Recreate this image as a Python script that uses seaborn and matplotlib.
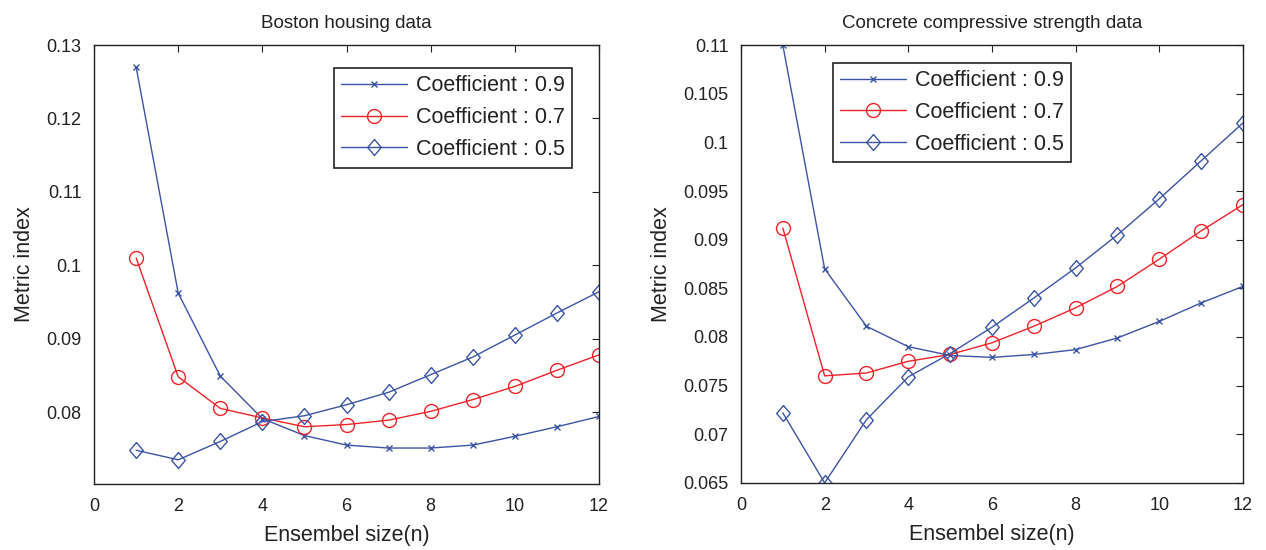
import numpy as np
import pandas as pd
import seaborn as sns
import matplotlib
matplotlib.use("Agg")
import matplotlib.pyplot as plt

# Ensemble sizes
ensemble_size = list(range(1, 13))

# Boston housing data
boston_09 = [0.1270, 0.0962, 0.0849, 0.0791, 0.0768, 0.0755, 0.0751, 0.0751, 0.0755, 0.0767, 0.0780, 0.0794]
boston_07 = [0.1010, 0.0848, 0.0805, 0.0792, 0.0780, 0.0783, 0.0789, 0.0801, 0.0817, 0.0835, 0.0857, 0.0878]
boston_05 = [0.0748, 0.0735, 0.0760, 0.0787, 0.0795, 0.0810, 0.0827, 0.0851, 0.0875, 0.0905, 0.0935, 0.0964]

# Concrete compressive strength data
concrete_09 = [0.1100, 0.0870, 0.0811, 0.0790, 0.0781, 0.0779, 0.0782, 0.0787, 0.0799, 0.0816, 0.0835, 0.0852]
concrete_07 = [0.0912, 0.0760, 0.0763, 0.0775, 0.0782, 0.0794, 0.0811, 0.0830, 0.0852, 0.0880, 0.0909, 0.0936]
concrete_05 = [0.0722, 0.0650, 0.0715, 0.0759, 0.0783, 0.0810, 0.0840, 0.0871, 0.0905, 0.0942, 0.0981, 0.1020]

labels = ["Coefficient : 0.9", "Coefficient : 0.7", "Coefficient : 0.5"]

sns.set_theme(style="white")
plt.rcParams['font.family'] = ['Liberation Sans', 'DejaVu Sans']

BLUE = "#3b54a5"
RED = "#ee2327"
# MATLAB-like diamond, a bit taller than wide
diamond = [(0, 1), (0.85, 0), (0, -1), (-0.85, 0), (0, 1)]
styles = [
    dict(color=BLUE, marker="x", markersize=5, mew=1.0),
    dict(color=RED, marker="o", markersize=10, mew=1.0),
    dict(color=BLUE, marker=diamond, markersize=11.5, mew=1.0),
]

fig = plt.figure(figsize=(12.66, 5.5), dpi=100)
ax1 = fig.add_axes([0.0743, 0.12, 0.3989, 0.798])
ax2 = fig.add_axes([0.5853, 0.122, 0.3965, 0.796])


def draw(ax, series, title, ylim, yticks, ytlabels, legend_loc):
    for vals, lab, st in zip(series, labels, styles):
        df = pd.DataFrame({"n": ensemble_size, "v": vals})
        sns.lineplot(data=df, x="n", y="v", ax=ax, color=st["color"],
                     marker=st["marker"], markersize=st["markersize"],
                     mfc="none", mec=st["color"], mew=st["mew"],
                     linewidth=1.0, label=lab)
    ax.set_xlim(0, 12)
    ax.set_ylim(*ylim)
    ax.set_xticks(range(0, 13, 2))
    ax.set_xticklabels([str(t) for t in range(0, 13, 2)], fontsize=13)
    ax.set_yticks(yticks)
    ax.set_yticklabels(ytlabels, fontsize=13)
    ax.tick_params(direction="in", top=True, right=True, length=5, width=0.8,
                   colors="#222222")
    ax.tick_params(axis="x", pad=10)
    ax.tick_params(axis="y", pad=9)
    for sp in ax.spines.values():
        sp.set_color("#222222")
        sp.set_linewidth(1.0)
    ax.set_title(title, fontsize=13.5, pad=12, color="#222222")
    ax.set_xlabel("Ensembel size(n)", fontsize=15.5, labelpad=7, color="#222222")
    ax.set_ylabel("Metric index", fontsize=15.5, labelpad=8, color="#222222")
    leg = ax.legend(loc="upper left", bbox_to_anchor=legend_loc, fontsize=15.5,
                    frameon=True, fancybox=False, framealpha=1, edgecolor="#222222",
                    handlelength=3.05, borderpad=0.35, labelspacing=0.5,
                    handletextpad=0.4, borderaxespad=0)
    leg.get_frame().set_linewidth(1.2)
    for t in leg.get_texts():
        t.set_color("#222222")


draw(ax1, [boston_09, boston_07, boston_05], "Boston housing data",
     (0.0702, 0.13), [0.08, 0.09, 0.10, 0.11, 0.12, 0.13],
     ["0.08", "0.09", "0.1", "0.11", "0.12", "0.13"], (0.475, 0.948))

draw(ax2, [concrete_09, concrete_07, concrete_05], "Concrete compressive strength data",
     (0.065, 0.11), [0.065, 0.07, 0.075, 0.08, 0.085, 0.09, 0.095, 0.10, 0.105, 0.11],
     ["0.065", "0.07", "0.075", "0.08", "0.085", "0.09", "0.095", "0.1", "0.105", "0.11"],
     (0.183, 0.96))

fig.savefig("out.png", dpi=100)
